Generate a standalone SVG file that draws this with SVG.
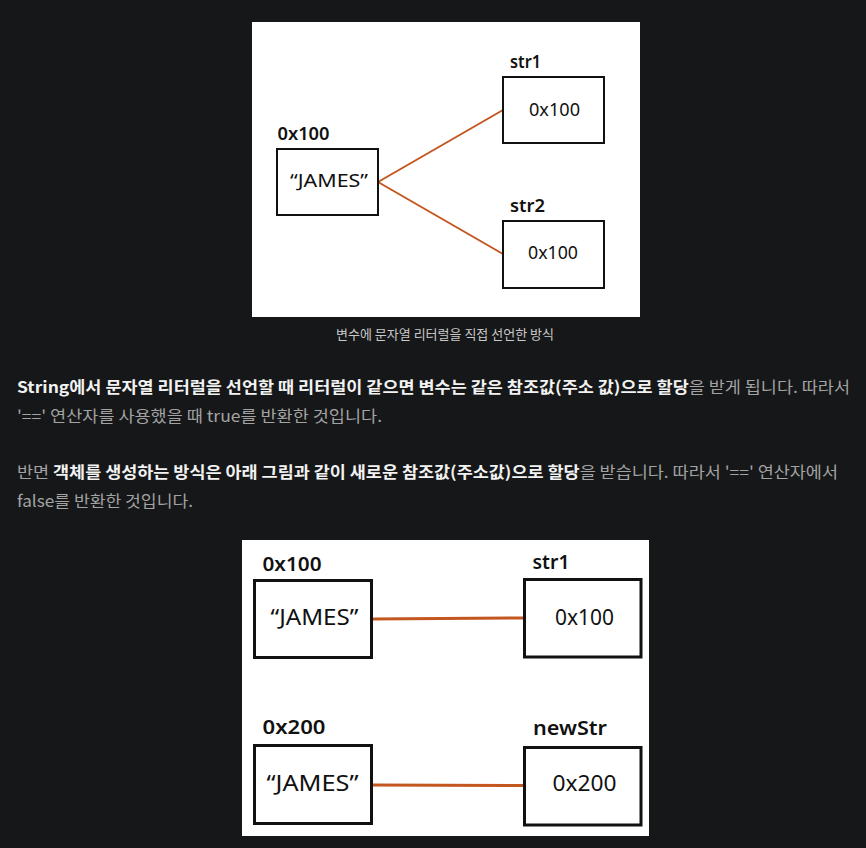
<svg xmlns="http://www.w3.org/2000/svg" width="866" height="848" viewBox="0 0 866 848">
<style>
.panel{fill:#ffffff}
.box{fill:#ffffff;stroke:#111111;stroke-width:2}
.box2{fill:#ffffff;stroke:#111111;stroke-width:3}
.conn{stroke:#c4561f;stroke-width:2;fill:none}
.conn2{stroke:#c4561f;stroke-width:3;fill:none}
.lab{font-family:"Noto Sans","DejaVu Sans",sans-serif;font-weight:600;fill:#111111}
.val{font-family:"Noto Sans","DejaVu Sans",sans-serif;font-weight:400;fill:#111111}
.para{font-family:"Noto Sans CJK KR","Noto Sans",sans-serif;font-size:16px;fill:#a3a3a3}
.b{font-weight:700;fill:#f2f2f2}
.cap{font-family:"Noto Sans CJK KR","Noto Sans",sans-serif;font-size:13px;fill:#c9c9c9}
</style>
<rect x="0" y="0" width="866" height="848" fill="#161718"/>

<!-- Top diagram -->
<rect class="panel" x="252" y="22" width="388" height="295"/>
<g id="connectors-top">
<line class="conn" x1="378" y1="182" x2="503" y2="110"/>
<line class="conn" x1="378" y1="182" x2="503" y2="254"/>
</g>
<g id="james-top">
<text class="lab" x="277.5" y="140" font-size="17" textLength="52" lengthAdjust="spacingAndGlyphs">0x100</text>
<rect class="box" x="277" y="149" width="101" height="66"/>
<text class="val" x="290" y="187" font-size="17.5" textLength="78" lengthAdjust="spacingAndGlyphs">“JAMES”</text>
</g>
<g id="str1-top">
<text class="lab" x="510" y="68" font-size="17" textLength="31" lengthAdjust="spacingAndGlyphs">str1</text>
<rect class="box" x="503" y="77" width="101" height="66"/>
<text class="val" x="529" y="116" font-size="17.5" textLength="51" lengthAdjust="spacingAndGlyphs">0x100</text>
</g>
<g id="str2-top">
<text class="lab" x="510" y="212" font-size="17" textLength="35" lengthAdjust="spacingAndGlyphs">str2</text>
<rect class="box" x="503" y="221" width="101" height="67"/>
<text class="val" x="528" y="259" font-size="17.5" textLength="50" lengthAdjust="spacingAndGlyphs">0x100</text>
</g>

<text class="cap" x="445" y="339" text-anchor="middle">변수에 문자열 리터럴을 직접 선언한 방식</text>

<!-- Paragraphs -->
<text class="para" x="17" y="393" textLength="833" lengthAdjust="spacingAndGlyphs"><tspan class="b">String에서 문자열 리터럴을 선언할 때 리터럴이 같으면 변수는 같은 참조값(주소 값)으로 할당</tspan>을 받게 됩니다. 따라서</text>
<text class="para" x="17" y="422" textLength="365" lengthAdjust="spacingAndGlyphs">'==' 연산자를 사용했을 때 true를 반환한 것입니다.</text>
<text class="para" x="17" y="478" textLength="821" lengthAdjust="spacingAndGlyphs">반면 <tspan class="b">객체를 생성하는 방식은 아래 그림과 같이 새로운 참조값(주소값)으로 할당</tspan>을 받습니다. 따라서 '==' 연산자에서</text>
<text class="para" x="17" y="507" textLength="176" lengthAdjust="spacingAndGlyphs">false를 반환한 것입니다.</text>

<!-- Bottom diagram -->
<rect class="panel" x="242" y="540" width="407" height="296"/>
<g id="connectors-bottom">
<line class="conn2" x1="372" y1="619" x2="524" y2="618"/>
<line class="conn2" x1="372" y1="785" x2="524" y2="785.5"/>
</g>
<g id="james-100">
<text class="lab" x="262.5" y="571" font-size="20.5" textLength="59" lengthAdjust="spacingAndGlyphs">0x100</text>
<rect class="box2" x="254.5" y="580.5" width="117" height="77"/>
<text class="val" x="270.5" y="625" font-size="21" textLength="88" lengthAdjust="spacingAndGlyphs">“JAMES”</text>
</g>
<g id="str1-bottom">
<text class="lab" x="532.5" y="569" font-size="20.5" textLength="37" lengthAdjust="spacingAndGlyphs">str1</text>
<rect class="box2" x="524.5" y="579.5" width="116.5" height="77.5"/>
<text class="val" x="555" y="625" font-size="21" textLength="59" lengthAdjust="spacingAndGlyphs">0x100</text>
</g>
<g id="james-200">
<text class="lab" x="262.5" y="734" font-size="20.5" textLength="63" lengthAdjust="spacingAndGlyphs">0x200</text>
<rect class="box2" x="254.5" y="745.5" width="117" height="78"/>
<text class="val" x="266.5" y="791" font-size="21" textLength="92" lengthAdjust="spacingAndGlyphs">“JAMES”</text>
</g>
<g id="newstr">
<text class="lab" x="533" y="735" font-size="20.5" textLength="74" lengthAdjust="spacingAndGlyphs">newStr</text>
<rect class="box2" x="524.5" y="747.5" width="116.5" height="77.5"/>
<text class="val" x="552.5" y="791" font-size="21" textLength="64" lengthAdjust="spacingAndGlyphs">0x200</text>
</g>
</svg>
